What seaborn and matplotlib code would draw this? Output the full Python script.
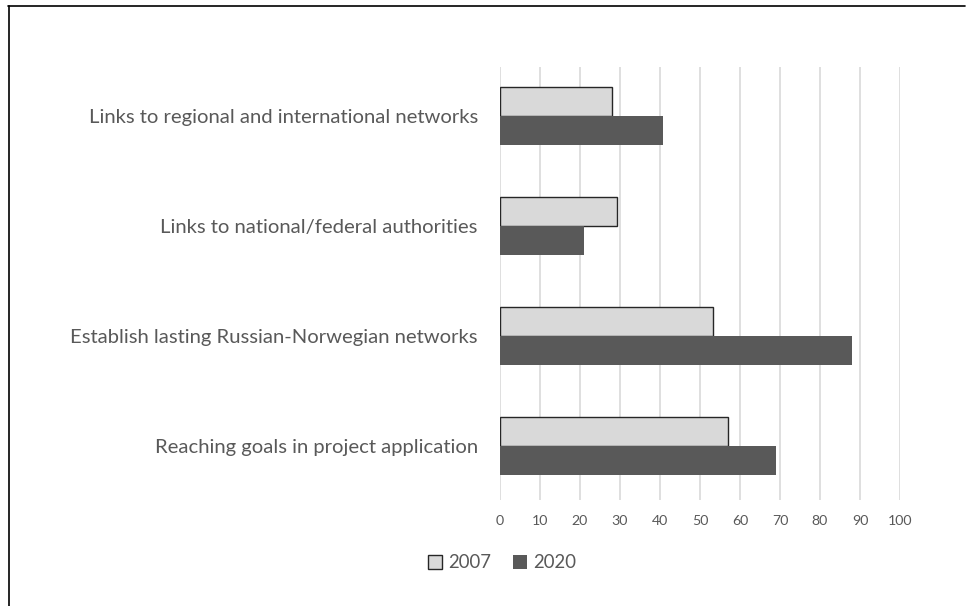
import matplotlib
matplotlib.use("Agg")
import matplotlib.pyplot as plt
from matplotlib.patches import Patch
from matplotlib.lines import Line2D
import pandas as pd
import seaborn as sns

categories = [
    "Links to regional and international networks",
    "Links to national/federal authorities",
    "Establish lasting Russian-Norwegian networks",
    "Reaching goals in project application",
]
values_2007 = [28, 29.3, 53.3, 57]
values_2020 = [40.7, 21.1, 88, 69]
years = ["2007", "2020"]
x_ticks = [0, 10, 20, 30, 40, 50, 60, 70, 80, 90, 100]

df = pd.DataFrame({
    "category": categories * 2,
    "value": values_2007 + values_2020,
    "year": [years[0]] * len(categories) + [years[1]] * len(categories),
})

sns.set_theme(style="white")
plt.rcParams["font.family"] = ["Lato", "DejaVu Sans"]

TEXT = "#595959"
LIGHT = "#d9d9d9"
DARK = "#595959"

fig = plt.figure(figsize=(9.66, 6.06), dpi=100)
ax = fig.add_axes([500 / 966, 1 - 500 / 606, 400 / 966, 433 / 606])

sns.barplot(
    data=df, y="category", x="value", hue="year", orient="h",
    palette=[LIGHT, DARK], width=0.52, ax=ax, legend=False,
    saturation=1,
)

# outline only the 2007 bars
for bar, yr in zip(ax.patches, df["year"]):
    if yr == "2007":
        bar.set_edgecolor("#262626")
        bar.set_linewidth(1.0)
    else:
        bar.set_edgecolor(DARK)
        bar.set_linewidth(0.0)

ax.set_xlim(0, 100)
ax.set_ylim(3.49, -0.445)
ax.set_xticks(x_ticks)
ax.set_xticklabels([str(t) for t in x_ticks])
ax.xaxis.grid(True, color=LIGHT, linewidth=1.2)
ax.set_axisbelow(True)
for s in ax.spines.values():
    s.set_visible(False)
ax.set_xlabel("")
ax.set_ylabel("")
ax.tick_params(axis="x", length=0, pad=11, labelsize=10.2, labelcolor=TEXT)
ax.tick_params(axis="y", length=0, pad=16, labelsize=14.6, labelcolor=TEXT)

handles = [
    Patch(facecolor=LIGHT, edgecolor="#262626", linewidth=1.0),
    Patch(facecolor=DARK, edgecolor=DARK, linewidth=0),
]
fig.legend(
    handles, years, loc="center", bbox_to_anchor=(502 / 966, 1 - 563 / 606),
    ncol=2, frameon=False, fontsize=13.4, labelcolor=TEXT,
    handlelength=0.75, handleheight=0.75, handletextpad=0.3, columnspacing=1.2,
)

# frame lines along the top and left edges
fig.add_artist(Line2D([8 / 966, 965 / 966], [1 - 6 / 606, 1 - 6 / 606],
                      transform=fig.transFigure, color="black", linewidth=1.2))
fig.add_artist(Line2D([9 / 966, 9 / 966], [1 - 6 / 606, 0],
                      transform=fig.transFigure, color="black", linewidth=1.2))

fig.savefig("out.png", dpi=100, facecolor="white")
